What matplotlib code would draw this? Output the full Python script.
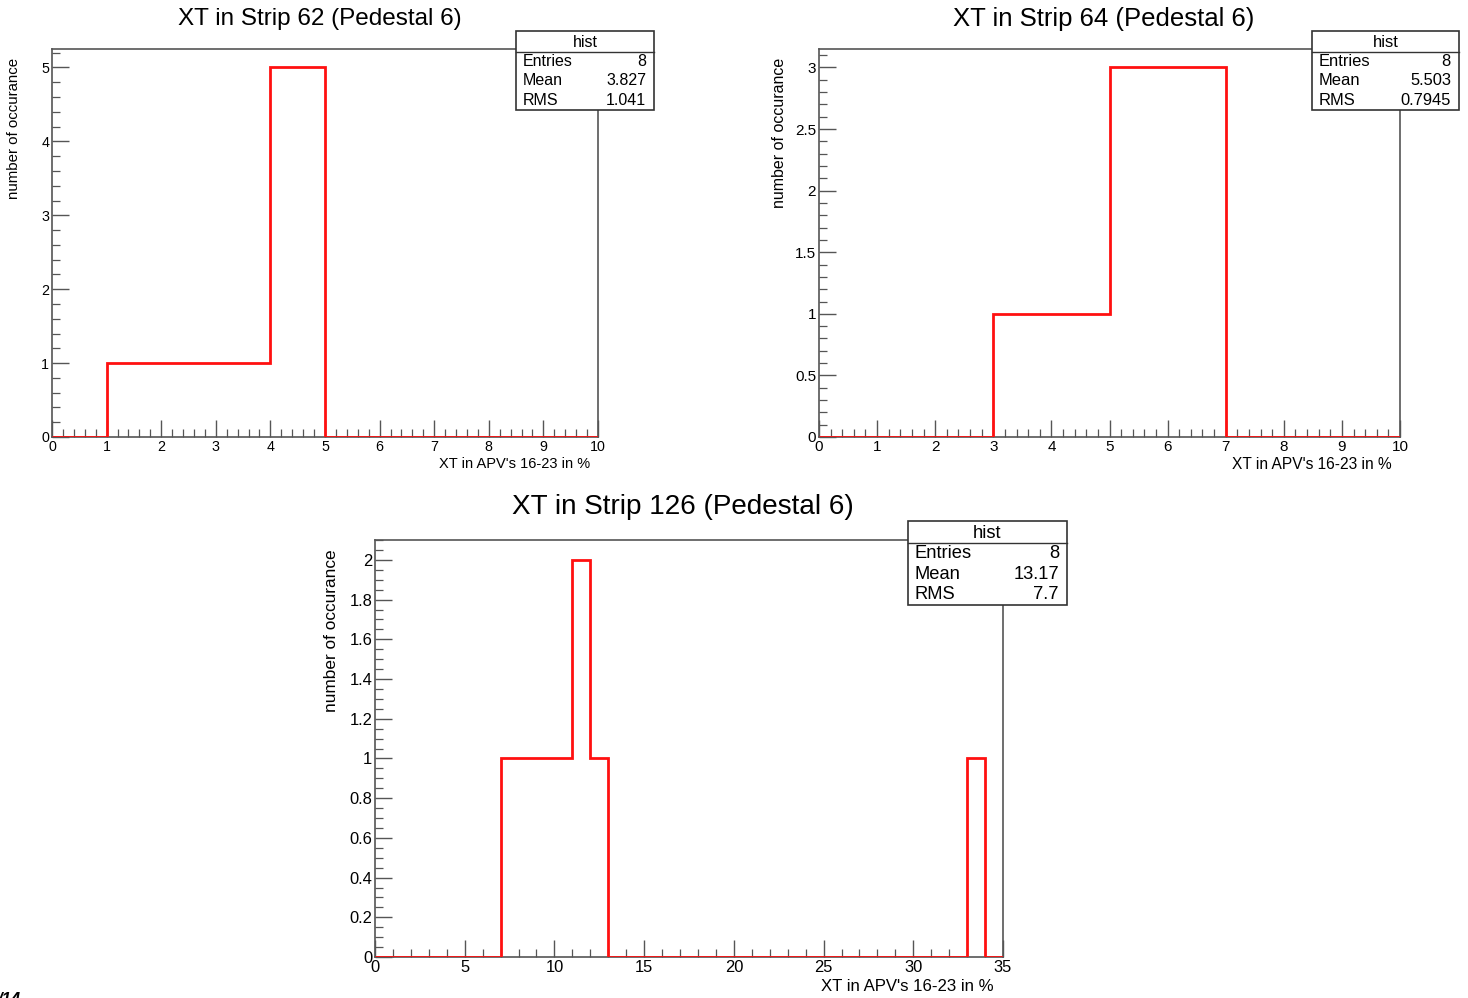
import numpy as np
import matplotlib
matplotlib.use("Agg")
import matplotlib.pyplot as plt
from matplotlib.patches import Rectangle
from matplotlib.lines import Line2D
from matplotlib.ticker import MultipleLocator

plt.rcParams['font.family'] = ['Liberation Sans', 'DejaVu Sans']

# histogram contents (unit-width bins)
edges_62 = np.arange(0, 11)
counts_62 = [0, 1, 1, 1, 5, 0, 0, 0, 0, 0]
stats_62 = ["8", "3.827", "1.041"]

edges_64 = np.arange(0, 11)
counts_64 = [0, 0, 0, 1, 1, 3, 3, 0, 0, 0]
stats_64 = ["8", "5.503", "0.7945"]

edges_126 = np.arange(0, 36)
counts_126 = [0] * 35
for b in [7, 8, 9, 10, 12, 33]:
    counts_126[b] = 1
counts_126[11] = 2
stats_126 = ["8", "13.17", "7.7"]

titles = ["XT in Strip 62 (Pedestal 6)", "XT in Strip 64 (Pedestal 6)",
          "XT in Strip 126 (Pedestal 6)"]
stat_names = ["Entries", "Mean", "RMS"]
xlabel = "XT in APV's 16-23 in %"
ylabel = "number of occurance"

W, H = 1468, 998
fig = plt.figure(figsize=(W / 100, H / 100), dpi=100)
fig.patch.set_facecolor("white")

FRAME = "#555555"


def fx(px):
    return px / W


def fy(py):
    return 1 - py / H


def make_axes(l, t, r, b):
    return fig.add_axes([fx(l), fy(b), fx(r) - fx(l), fy(t) - fy(b)])


def stats_box(l, t, r, b, vals, s):
    # ROOT-style stat box, drawn in figure pixels
    fig.add_artist(Rectangle((fx(l), fy(b)), fx(r) - fx(l), fy(t) - fy(b),
                             transform=fig.transFigure, facecolor="white",
                             edgecolor="#333333", lw=1.2, zorder=5))
    hh = (b - t) * 0.265
    fig.add_artist(Line2D([fx(l), fx(r)], [fy(t + hh), fy(t + hh)],
                          transform=fig.transFigure, color="#333333", lw=1.0, zorder=6))
    fig.text(fx((l + r) / 2), fy(t + hh / 2 + 1), "hist", ha="center", va="center",
             fontsize=11 * s, zorder=7)
    row = (b - t - hh) / 3
    for i, (name, v) in enumerate(zip(stat_names, vals)):
        yy = fy(t + hh + row * (i + 0.5))
        fig.text(fx(l + 7), yy, name, ha="left", va="center", fontsize=11 * s, zorder=7)
        fig.text(fx(r - 8), yy, v, ha="right", va="center", fontsize=11 * s, zorder=7)


def draw_panel(ax, edges, counts, ymax, xmaj, xmin, ymaj, ymin, title, tpos, ylab_x, s):
    ax.stairs(counts, edges, color="#ff1010", lw=2.0, baseline=0, zorder=3)
    ax.set_xlim(edges[0], edges[-1])
    ax.set_ylim(0, ymax)
    for sp in ax.spines.values():
        sp.set_color(FRAME)
        sp.set_linewidth(1.2)
    ax.xaxis.set_major_locator(MultipleLocator(xmaj))
    ax.xaxis.set_minor_locator(MultipleLocator(xmin))
    ax.yaxis.set_major_locator(MultipleLocator(ymaj))
    ax.yaxis.set_minor_locator(MultipleLocator(ymin))
    ax.tick_params(which="both", direction="in", color=FRAME, labelsize=9.8 * s,
                   top=False, right=False, pad=2)
    ax.tick_params(which="major", length=12, width=1.0)
    ax.tick_params(which="minor", length=6, width=0.9)
    ax.yaxis.set_major_formatter(matplotlib.ticker.FuncFormatter(
        lambda v, p: ("%g" % round(v, 3))))
    ax.text(1.0 - 0.015, -0.07, xlabel, transform=ax.transAxes, ha="right",
            va="center", fontsize=10 * s)
    fig.text(fx(ylab_x), ax.get_position().y1 - 0.009, ylabel, rotation=90,
             ha="center", va="top", fontsize=10.3 * s)
    fig.text(fx(tpos[0]), fy(tpos[1]), title, ha="center", va="center", fontsize=16.6 * s)


ax1 = make_axes(52, 49, 598, 437)
draw_panel(ax1, edges_62, counts_62, 5.25, 1, 0.2, 1, 0.2, titles[0], (320, 19), 14, 1.05)
stats_box(516, 31, 654, 110, stats_62, 1.05)

ax2 = make_axes(819, 49, 1400, 437)
draw_panel(ax2, edges_64, counts_64, 3.15, 1, 0.2, 0.5, 0.1, titles[1], (1104, 19), 779, 1.12)
stats_box(1312, 31, 1459, 110, stats_64, 1.08)

ax3 = make_axes(375, 540, 1003, 957)
draw_panel(ax3, edges_126, counts_126, 2.1, 5, 1, 0.2, 0.05, titles[2], (683, 507), 331, 1.21)
stats_box(908, 521, 1067, 605, stats_126, 1.2)

fig.text(fx(-2), fy(1000), "/14", ha="left", va="center", fontsize=12,
         style="italic", weight="bold")

fig.savefig("out.png", dpi=100, facecolor="white")
